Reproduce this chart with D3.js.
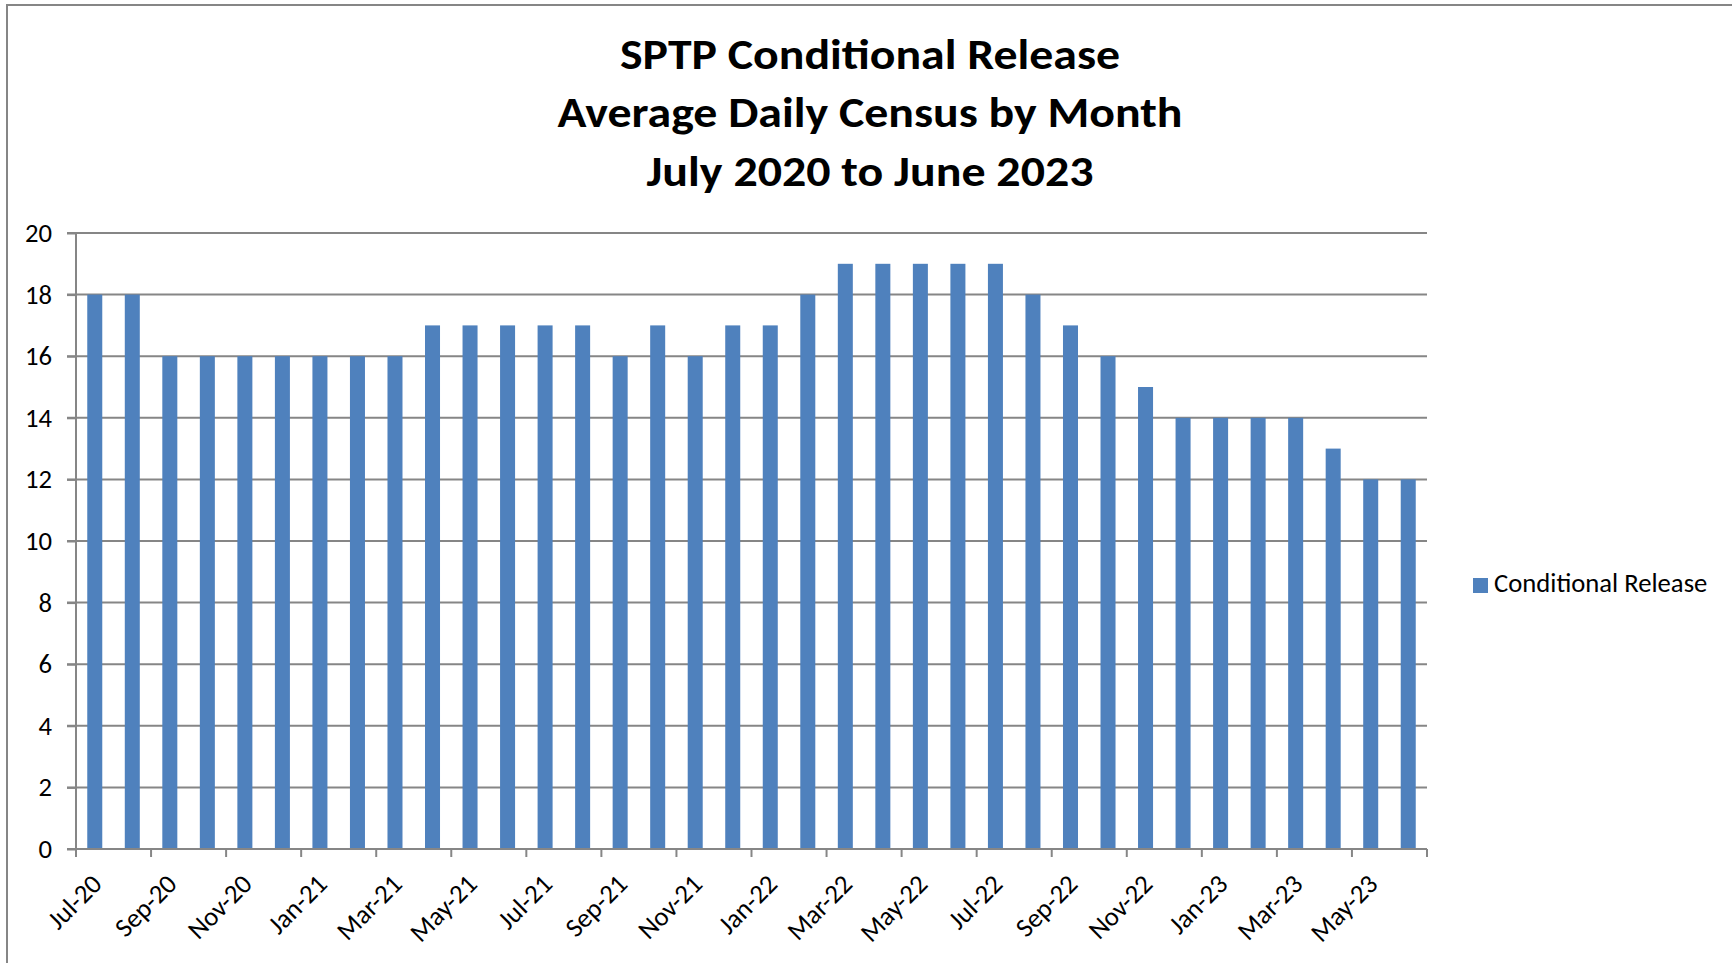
<!DOCTYPE html>
<html>
<head>
<meta charset="utf-8">
<script src="https://cdn.jsdelivr.net/npm/d3@7"></script>
<style>
  html, body { margin: 0; padding: 0; background: #fff; }
  svg { display: block; }
  text { font-family: Calibri, Carlito, Lato, sans-serif; fill: #000; }
</style>
</head>
<body>
<svg id="chart" width="1732" height="963"></svg>
<script>
const months = ["Jul-20","Aug-20","Sep-20","Oct-20","Nov-20","Dec-20",
  "Jan-21","Feb-21","Mar-21","Apr-21","May-21","Jun-21",
  "Jul-21","Aug-21","Sep-21","Oct-21","Nov-21","Dec-21",
  "Jan-22","Feb-22","Mar-22","Apr-22","May-22","Jun-22",
  "Jul-22","Aug-22","Sep-22","Oct-22","Nov-22","Dec-22",
  "Jan-23","Feb-23","Mar-23","Apr-23","May-23","Jun-23"];
const conditionalRelease = [18,18,16,16,16,16,
  16,16,16,17,17,17,
  17,17,16,17,16,17,
  17,18,19,19,19,19,
  19,18,17,16,15,14,
  14,14,14,13,12,12];
const yTicks = [0,2,4,6,8,10,12,14,16,18,20];
const titleLines = ["SPTP Conditional Release","Average Daily Census by Month","July 2020 to June 2023"];
const seriesName = "Conditional Release";

(function () {
const svg = d3.select("#chart");
const grey = "#868686";
const barColor = "#4F81BD";
const labelFont = 26.67;

// outer frame
svg.append("path")
  .attr("d", "M7,963 L7,5 L1732,5")
  .attr("fill", "none").attr("stroke", grey).attr("stroke-width", 2);

// title
const titleWidths = [500, 625, 447];
const titleY = [69, 127, 186];
svg.append("g").selectAll("text").data(titleLines).join("text")
  .attr("x", 870).attr("y", (d,i) => titleY[i])
  .attr("text-anchor", "middle")
  .attr("font-size", 43).attr("font-weight", "bold")
  .attr("textLength", (d,i) => titleWidths[i])
  .attr("lengthAdjust", "spacingAndGlyphs")
  .text(d => d);

const pLeft = 76, pRight = 1427, pTop = 233, pBottom = 849;

const x = d3.scaleBand().domain(months).range([pLeft, pRight]).paddingInner(0.6).paddingOuter(0.3);
const xCat = d3.scaleBand().domain(months).range([pLeft, pRight]).padding(0);
const y = d3.scaleLinear().domain([0, 20]).range([pBottom, pTop]);

// gridlines
svg.append("g").selectAll("line").data(yTicks).join("line")
  .attr("x1", pLeft - 9).attr("x2", pRight)
  .attr("y1", d => y(d)).attr("y2", d => y(d))
  .attr("stroke", grey).attr("stroke-width", 2);

// y axis
const yAxis = svg.append("g").attr("transform", `translate(${pLeft},0)`)
  .call(d3.axisLeft(y).tickValues(yTicks).tickSize(9).tickPadding(15).tickFormat(d3.format("d")));
yAxis.select(".domain").remove();
yAxis.selectAll(".tick line").attr("stroke", grey).attr("stroke-width", 2);
yAxis.selectAll(".tick text").attr("font-size", labelFont).attr("font-family", "Calibri, Carlito, Lato, sans-serif").attr("fill", "#000");
svg.append("line").attr("x1", pLeft).attr("x2", pLeft).attr("y1", pTop).attr("y2", pBottom + 8)
  .attr("stroke", grey).attr("stroke-width", 2);

// bars
svg.append("g").selectAll("rect").data(months).join("rect")
  .attr("x", d => x(d))
  .attr("width", x.bandwidth())
  .attr("y", (d,i) => y(conditionalRelease[i]))
  .attr("height", (d,i) => y(0) - y(conditionalRelease[i]))
  .attr("fill", barColor);

// x axis line and ticks
svg.append("line").attr("x1", pLeft - 9).attr("x2", pRight).attr("y1", pBottom).attr("y2", pBottom)
  .attr("stroke", grey).attr("stroke-width", 2);
const tickMonths = months.filter((d,i) => i % 2 === 0);
const tickXs = tickMonths.map(d => xCat(d)).concat([pRight]);
svg.append("g").selectAll("line").data(tickXs).join("line")
  .attr("x1", d => d).attr("x2", d => d)
  .attr("y1", pBottom).attr("y2", pBottom + 8)
  .attr("stroke", grey).attr("stroke-width", 2);

// x labels
svg.append("g").selectAll("text").data(tickMonths).join("text")
  .attr("transform", d => `translate(${xCat(d) + xCat.bandwidth()/2 + 2},${pBottom + 30}) rotate(-45)`)
  .attr("text-anchor", "end")
  .attr("dy", "0.35em")
  .attr("font-size", labelFont)
  .text(d => d);

// legend
const legend = svg.append("g").attr("transform", "translate(1473,578)");
legend.append("rect").attr("width", 15).attr("height", 15).attr("fill", barColor);
legend.append("text").attr("x", 21).attr("y", 14).attr("font-size", labelFont).text(seriesName);
})();
</script>
</body>
</html>
